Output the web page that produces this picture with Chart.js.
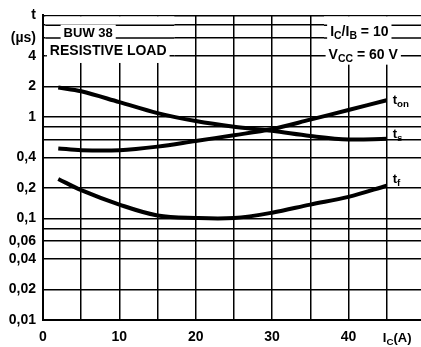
<!DOCTYPE html>
<html>
<head>
<meta charset="utf-8">
<script src="https://cdn.jsdelivr.net/npm/chart.js@4/dist/chart.umd.min.js"></script>
<style>
  html, body { margin: 0; padding: 0; background: #fff; }
  #wrap { width: 421px; height: 347px; }
</style>
</head>
<body>
<div id="wrap"><canvas id="c"></canvas></div>
<script>
// collector current, A
const icValues = [2, 5, 10, 15, 20, 25, 30, 35, 40, 45];
// switching times, µs
const tOn = [0.49, 0.47, 0.47, 0.51, 0.58, 0.66, 0.76, 0.94, 1.17, 1.46];
const tS = [1.95, 1.79, 1.4, 1.09, 0.91, 0.8, 0.73, 0.65, 0.6, 0.61];
const tF = [0.245, 0.19, 0.137, 0.107, 0.101, 0.101, 0.114, 0.137, 0.163, 0.21];

const yGrid = [0.01, 0.02, 0.04, 0.06, 0.08, 0.1, 0.2, 0.4, 0.6, 0.8, 1, 2, 4, 6, 8, 10];
const yLabels = {0.01: '0,01', 0.02: '0,02', 0.04: '0,04', 0.06: '0,06', 0.1: '0,1',
  0.2: '0,2', 0.4: '0,4', 1: '1', 2: '2', 4: '4', 6: '(µs)', 10: 't'};
const xGrid = [0, 5, 10, 15, 20, 25, 30, 35, 40, 45];
const xLabels = {0: '0', 10: '10', 20: '20', 30: '30', 40: '40'};

const FONT = '"Liberation Sans", Arial, sans-serif';

// draws text made of pieces, some of them subscript
function drawRich(ctx, parts, x, y, size, bg) {
  let w = 0;
  parts.forEach(p => {
    ctx.font = 'bold ' + (p.sub ? size * 0.75 : size) + 'px ' + FONT;
    w += ctx.measureText(p.t).width;
  });
  if (bg) {
    ctx.fillStyle = '#fff';
    ctx.fillRect(x - 3, y - size * 0.65, w + 6, size * 1.35);
  }
  ctx.fillStyle = '#000';
  ctx.textBaseline = 'middle';
  ctx.textAlign = 'left';
  let cx = x;
  parts.forEach(p => {
    ctx.font = 'bold ' + (p.sub ? size * 0.75 : size) + 'px ' + FONT;
    ctx.fillText(p.t, cx, p.sub ? y + size * 0.3 : y);
    cx += ctx.measureText(p.t).width;
  });
}

// blank the vertical grid behind the two text blocks, keep the horizontal lines
const blocks = {
  id: 'blocks',
  beforeDatasetsDraw(chart) {
    const ctx = chart.ctx;
    const xs = chart.scales.x, ys = chart.scales.y;
    const top = chart.chartArea.top + 1;
    const boxes = [[xs.getPixelForValue(0.3), xs.getPixelForValue(17.2), ys.getPixelForValue(3.4)],
                   [xs.getPixelForValue(36.8), chart.chartArea.right, ys.getPixelForValue(3.3)]];
    ctx.save();
    boxes.forEach(b => {
      ctx.fillStyle = '#fff';
      ctx.fillRect(b[0], top, b[1] - b[0], b[2] - top);
      ctx.strokeStyle = '#000';
      ctx.lineWidth = 1.5;
      [8, 6, 4].forEach(v => {
        const y = ys.getPixelForValue(v);
        ctx.beginPath();
        ctx.moveTo(b[0], y);
        ctx.lineTo(b[1], y);
        ctx.stroke();
      });
    });
    ctx.restore();
  }
};

const notes = {
  id: 'notes',
  afterDraw(chart) {
    const ctx = chart.ctx;
    const xs = chart.scales.x, ys = chart.scales.y;
    const px = v => xs.getPixelForValue(v);
    const py = v => ys.getPixelForValue(v);
    ctx.save();
    drawRich(ctx, [{t: 'BUW 38'}], px(2.7), py(6.7), 13, true);
    drawRich(ctx, [{t: 'RESISTIVE LOAD'}], px(0.9), py(4.4), 14, true);
    drawRich(ctx, [{t: 'I'}, {t: 'C', sub: true}, {t: '/I'}, {t: 'B', sub: true}, {t: ' = 10'}], px(37.6), py(6.8), 14, true);
    drawRich(ctx, [{t: 'V'}, {t: 'CC', sub: true}, {t: ' = 60 V'}], px(37.4), py(4.1), 14, true);
    drawRich(ctx, [{t: 't'}, {t: 'on', sub: true}], px(45.8), py(1.46), 13, false);
    drawRich(ctx, [{t: 't'}, {t: 's', sub: true}], px(45.8), py(0.68), 13, false);
    drawRich(ctx, [{t: 't'}, {t: 'f', sub: true}], px(45.8), py(0.245), 13, false);
    drawRich(ctx, [{t: 'I'}, {t: 'C', sub: true}, {t: '(A)'}], px(44.5), 338, 13, false);
    ctx.restore();
  }
};

function curve(label, data) {
  return {
    label: label,
    data: data,
    borderColor: '#000',
    borderWidth: 4,
    pointRadius: 0,
    fill: false,
    tension: 0.35
  };
}

new Chart(document.getElementById('c'), {
  type: 'line',
  data: {
    labels: icValues,
    datasets: [curve('ton', tOn), curve('ts', tS), curve('tf', tF)]
  },
  options: {
    responsive: true,
    maintainAspectRatio: false,
    animation: false,
    layout: { padding: { top: 10, right: 0, left: 0, bottom: 0 } },
    plugins: { legend: { display: false }, tooltip: { enabled: false } },
    scales: {
      x: {
        type: 'linear',
        min: 0,
        max: 49.5,
        afterBuildTicks: s => { s.ticks = xGrid.map(v => ({ value: v })); },
        afterFit: s => { s.height = 27; },
        grid: { color: '#000', lineWidth: 1.5, drawTicks: false },
        border: { color: '#000', width: 2 },
        ticks: {
          color: '#000',
          padding: 9,
          maxRotation: 0,
          autoSkip: false,
          font: { family: FONT, size: 14, weight: 'bold' },
          callback: v => xLabels[v] || ''
        }
      },
      y: {
        type: 'logarithmic',
        min: 0.01,
        max: 10,
        afterBuildTicks: s => { s.ticks = yGrid.map(v => ({ value: v })); },
        afterFit: s => { s.width = 43; },
        grid: { color: '#000', lineWidth: 1.5, drawTicks: false },
        border: { color: '#000', width: 2 },
        ticks: {
          color: '#000',
          padding: 7,
          autoSkip: false,
          font: { family: FONT, size: 14, weight: 'bold' },
          callback: v => yLabels[v] || ''
        }
      }
    }
  },
  plugins: [blocks, notes]
});
</script>
</body>
</html>
